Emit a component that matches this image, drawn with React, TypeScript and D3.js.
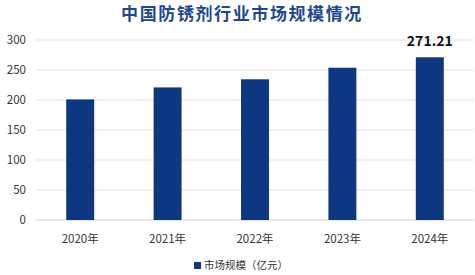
import React from "react";
import * as d3 from "d3";

const years = ["2020年", "2021年", "2022年", "2023年", "2024年"];
const marketSize = [201, 221, 234.5, 253.8, 271.21];
const yTicks = [0, 50, 100, 150, 200, 250, 300];
const labeledValue = 271.21;
const title = "中国防锈剂行业市场规模情况";
const legendLabel = "市场规模（亿元）";

const W = 475;
const H = 275;
const FONT = "'Noto Sans CJK SC', 'Noto Sans', sans-serif";
const BAR = "#0e3782";

export default function App() {
  const x = d3.scaleBand<string>().domain(years).range([36.5, 473.5]).paddingInner(0.68).paddingOuter(0.34);
  const y = d3.scaleLinear().domain([0, 300]).range([220, 40]);

  return (
    <svg
      width={W}
      height={H}
      style={{ position: "absolute", left: 0, top: 0, background: "#fff" }}
      fontFamily={FONT}
    >
      <text x={242} y={19.5} textAnchor="middle" fontSize={17} letterSpacing={1.6} fontWeight={700} fill="#1d4891">
        {title}
      </text>

      {yTicks.map((t) => (
        <g key={t}>
          <line x1={36} x2={474} y1={y(t)} y2={y(t)} stroke={t === 0 ? "#d0d0d0" : "#e2e2e2"} strokeWidth={1} />
          <text x={26} y={y(t)} dy="0.35em" textAnchor="end" fontSize={11.5} fill="#333">
            {t}
          </text>
        </g>
      ))}

      {years.map((yr, i) => (
        <g key={yr}>
          <rect
            x={x(yr)}
            y={y(marketSize[i])}
            width={x.bandwidth()}
            height={y(0) - y(marketSize[i])}
            fill={BAR}
          />
          <text
            x={(x(yr) as number) + x.bandwidth() / 2}
            y={239}
            dy="0.35em"
            textAnchor="middle"
            fontSize={11.5}
            fill="#333"
          >
            {yr}
          </text>
        </g>
      ))}

      {years.map((yr, i) =>
        marketSize[i] === labeledValue ? (
          <text
            key={"v" + yr}
            x={(x(yr) as number) + x.bandwidth() / 2}
            y={46}
            textAnchor="middle"
            fontSize={14}
            fontWeight={700}
            fill="#111"
          >
            {labeledValue.toFixed(2)}
          </text>
        ) : null
      )}

      <rect x={194} y={262} width={7} height={7} fill={BAR} />
      <text x={204} y={265.5} dy="0.35em" fontSize={10.5} fill="#333">
        {legendLabel}
      </text>
    </svg>
  );
}
